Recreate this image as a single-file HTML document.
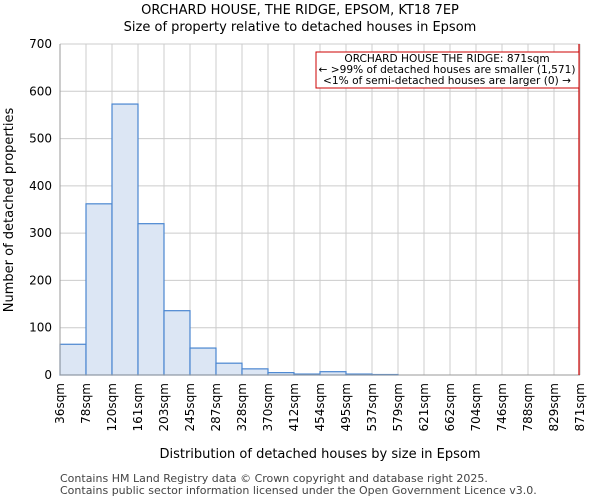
<!DOCTYPE html>
<html><head><meta charset="utf-8"><style>
body{margin:0;background:#fff;font-family:"DejaVu Sans","Liberation Sans",sans-serif}
</style></head><body>
<svg id="c" width="600" height="500" xmlns="http://www.w3.org/2000/svg" font-family="DejaVu Sans, Liberation Sans, sans-serif"></svg>
<script>
const binLabels=["36sqm","78sqm","120sqm","161sqm","203sqm","245sqm","287sqm","328sqm","370sqm","412sqm","454sqm","495sqm","537sqm","579sqm","621sqm","662sqm","704sqm","746sqm","788sqm","829sqm","871sqm"];
const counts=[65,362,573,320,136,57,25,13,5,2,7,2,1,0,0,0,0,0,0,0];
const yTicks=[0,100,200,300,400,500,600,700];
const markerBin=20;
const svg=document.getElementById('c');const NS='http://www.w3.org/2000/svg';
const L=60,R=580,T=44,B=375;
const x=i=>L+(R-L)*i/counts.length;
const y=v=>B-(B-T)*v/700;
function el(t,a,txt,name){const e=document.createElementNS(NS,t);for(const k in a)e.setAttribute(k,a[k]);if(txt!=null)e.textContent=txt;


svg.appendChild(e);return e;}
yTicks.forEach(v=>{el('line',{x1:L,x2:R,y1:y(v),y2:y(v),stroke:'#ccc','stroke-width':1},null,'y-gridline');
el('text',{x:L-8,y:y(v)+4,'text-anchor':'end','font-size':12,fill:'#000'},v,'y-tick-label');});
binLabels.forEach((s,i)=>{el('line',{x1:x(i),x2:x(i),y1:T,y2:B,stroke:'#ccc','stroke-width':1},null,'x-gridline');
el('text',{x:0,y:0,'text-anchor':'end','font-size':12,fill:'#000',transform:`translate(${x(i)+4},${B+8}) rotate(-90)`},s,'x-tick-label');});
counts.forEach((v,i)=>{el('rect',{x:x(i),y:y(v),width:x(i+1)-x(i),height:B-y(v),fill:'#dce6f4',stroke:'#4a86d0','stroke-width':1.2},null,'histogram-bar');});
el('line',{x1:L,x2:L,y1:T,y2:B,stroke:'#999'},null,'y-axis');
el('line',{x1:L,x2:R,y1:B,y2:B,stroke:'#999'},null,'x-axis');
el('line',{x1:x(markerBin)-1,x2:x(markerBin)-1,y1:T,y2:B,stroke:'#c00','stroke-width':1.2},null,'property-marker-line');
el('rect',{x:316,y:52,width:263,height:36,fill:'#fff',stroke:'#c00','stroke-width':1},null,'annotation-box');
el('text',{x:447,y:62,'text-anchor':'middle','font-size':10.6},'ORCHARD HOUSE THE RIDGE: 871sqm','annotation-title');
el('text',{x:447,y:73,'text-anchor':'middle','font-size':10.6},'← >99% of detached houses are smaller (1,571)','annotation-line-1');
el('text',{x:447,y:84,'text-anchor':'middle','font-size':10.6},'<1% of semi-detached houses are larger (0) →','annotation-line-2');
el('text',{x:300,y:14,'text-anchor':'middle','font-size':13},'ORCHARD HOUSE, THE RIDGE, EPSOM, KT18 7EP','chart-title');
el('text',{x:300,y:31,'text-anchor':'middle','font-size':13},'Size of property relative to detached houses in Epsom','chart-subtitle');
el('text',{x:0,y:0,'text-anchor':'middle','font-size':13,transform:'translate(13,210) rotate(-90)'},'Number of detached properties','y-axis-title');
el('text',{x:320,y:458,'text-anchor':'middle','font-size':13},'Distribution of detached houses by size in Epsom','x-axis-title');
el('text',{x:60,y:482,'font-size':11,fill:'#444'},'Contains HM Land Registry data © Crown copyright and database right 2025.','footer-line-1');
el('text',{x:60,y:494,'font-size':11,fill:'#444'},'Contains public sector information licensed under the Open Government Licence v3.0.','footer-line-2');
</script></body></html>
